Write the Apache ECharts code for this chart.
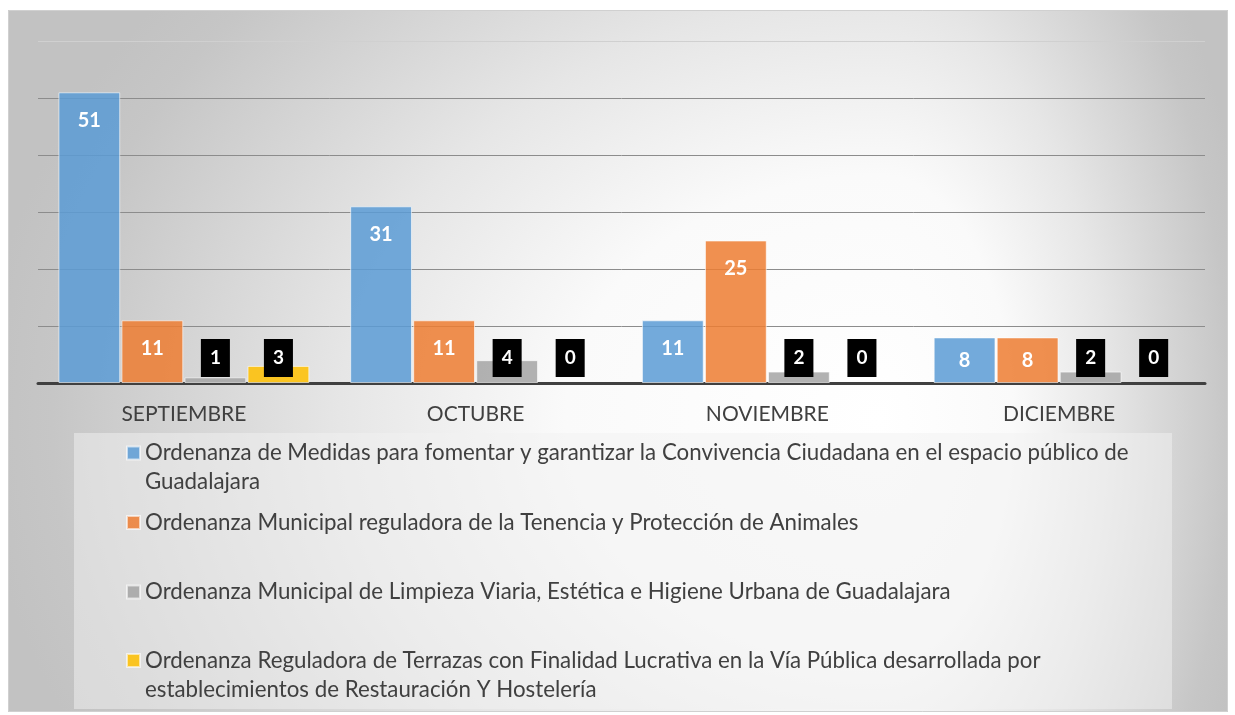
<!DOCTYPE html>
<html>
<head>
<meta charset="utf-8">
<script src="https://cdn.jsdelivr.net/npm/echarts@6/dist/echarts.min.js"></script>
<style>html,body{margin:0;padding:0;background:#fff}#c{width:1235px;height:715px}</style>
</head>
<body>
<div id="c"></div>
<script>
const categories = ['SEPTIEMBRE', 'OCTUBRE', 'NOVIEMBRE', 'DICIEMBRE'];
const seriesNames = [
  'Ordenanza de Medidas para fomentar y garantizar la Convivencia Ciudadana en el espacio público de Guadalajara',
  'Ordenanza Municipal reguladora de la Tenencia y Protección de Animales',
  'Ordenanza Municipal de Limpieza Viaria, Estética e Higiene Urbana de Guadalajara',
  'Ordenanza Reguladora de Terrazas con Finalidad Lucrativa en la Vía Pública desarrollada por establecimientos de Restauración Y Hostelería'
];
const convivencia = [51, 31, 11, 8];
const animales = [11, 11, 25, 8];
const limpieza = [1, 4, 2, 2];
const terrazas = [3, 0, 0, 0];
const legendLines = [
  'Ordenanza de Medidas para fomentar y garantizar la Convivencia Ciudadana en el espacio público de\nGuadalajara',
  'Ordenanza Municipal reguladora de la Tenencia y Protección de Animales',
  'Ordenanza Municipal de Limpieza Viaria, Estética e Higiene Urbana de Guadalajara',
  'Ordenanza Reguladora de Terrazas con Finalidad Lucrativa en la Vía Pública desarrollada por\nestablecimientos de Restauración Y Hostelería'
];

const FONT = 'Lato';
const colors = ['rgba(91,155,213,0.85)', 'rgba(237,125,49,0.85)', 'rgba(165,165,165,0.85)', 'rgba(255,192,0,0.85)'];

const insideLabel = {
  show: true, position: 'insideTop', distance: 18,
  color: '#fff', fontWeight: 'bold', fontSize: 20, fontFamily: FONT
};
const boxLabel = {
  show: true, position: 'insideBottom', distance: 6,
  color: '#fff', backgroundColor: '#000', fontWeight: 'bold', fontSize: 19,
  fontFamily: FONT, padding: [8, 9, 8, 9], lineHeight: 22
};

function mkData(vals, small) {
  return vals.map(v => {
    const item = { value: v };
    if (small && v < 10) item.label = { position: 'inside' };
    if (v === 0) item.itemStyle = { borderWidth: 0 };
    return item;
  });
}

function mkSeries(i, vals, label, small) {
  return {
    name: seriesNames[i], type: 'bar',
    data: mkData(vals, small),
    barGap: '2%', barCategoryGap: '14%',
    itemStyle: { color: colors[i], borderColor: 'rgba(255,255,255,0.6)', borderWidth: 1 },
    label: label
  };
}

const LH = 29;
const legendMids = [453, 522.5, 592, 660.5];
const legends = seriesNames.map((n, i) => {
  const twoLine = legendLines[i].indexOf('\n') >= 0;
  const h = twoLine ? 13 + LH : 13;
  return {
    data: [n], orient: 'vertical', left: 126,
    top: legendMids[i] - LH / 2,
    padding: 0, itemWidth: 13, itemHeight: h, itemGap: 0,
    icon: 'path://M0,0L13,0L13,13L0,13Z M13,' + h + 'L13,' + h,
    selectedMode: false,
    formatter: () => legendLines[i],
    textStyle: { fontFamily: FONT, fontSize: 22.3, color: '#404040', lineHeight: LH }
  };
});

const CX = 880, CY = 420;
const stops = [
  { offset: 0, color: '#ffffff' }, { offset: 0.35, color: '#fafafa' },
  { offset: 0.6, color: '#e6e6e6' }, { offset: 0.92, color: '#c6c6c6' }, { offset: 1, color: '#c2c2c2' }
];
function bgPart(x0, x1, rx, ry) {
  const sx = rx / 100, sy = ry / 100;
  return {
    type: 'rect', z: -10, silent: true, x: CX, y: CY, scaleX: sx, scaleY: sy,
    shape: { x: (x0 - CX) / sx, y: (10 - CY) / sy, width: (x1 - x0) / sx, height: 702 / sy },
    style: { fill: { type: 'radial', x: 0, y: 0, r: 100, global: true, colorStops: stops } }
  };
}

const chart = echarts.init(document.getElementById('c'));
chart.setOption({
  animation: false,
  backgroundColor: '#fff',
  textStyle: { fontFamily: FONT },
  graphic: [
    bgPart(8, CX + 0.5, 900, 700),
    bgPart(CX, 1228, 380, 700),
    {
      type: 'rect', z: -9, silent: true,
      shape: { x: 8.5, y: 10.5, width: 1219, height: 701 },
      style: { fill: 'none', stroke: '#d0d0d0', lineWidth: 1 }
    },
    {
      type: 'rect', z: -9, silent: true,
      shape: { x: 74, y: 433, width: 1098, height: 276 },
      style: { fill: 'rgba(242,242,242,0.5)' }
    }
  ],
  legend: legends,
  grid: { left: 38, right: 30, top: 41, bottom: 332 },
  xAxis: {
    type: 'category', data: categories,
    axisLine: { lineStyle: { color: '#404040', width: 3 } },
    axisTick: { show: false },
    axisLabel: { color: '#404040', fontSize: 21, fontFamily: FONT, margin: 21 }
  },
  yAxis: {
    type: 'value', min: 0, max: 60, interval: 10,
    axisLabel: { show: false }, axisLine: { show: false }, axisTick: { show: false },
    splitLine: { lineStyle: { color: ['#8c8c8c', '#8c8c8c', '#8c8c8c', '#8c8c8c', '#8c8c8c', '#8c8c8c', '#d0d0d0'], width: 1 } }
  },
  series: [
    mkSeries(0, convivencia, insideLabel, true),
    mkSeries(1, animales, insideLabel, true),
    mkSeries(2, limpieza, boxLabel, false),
    mkSeries(3, terrazas, boxLabel, false)
  ]
});
</script>
</body>
</html>
